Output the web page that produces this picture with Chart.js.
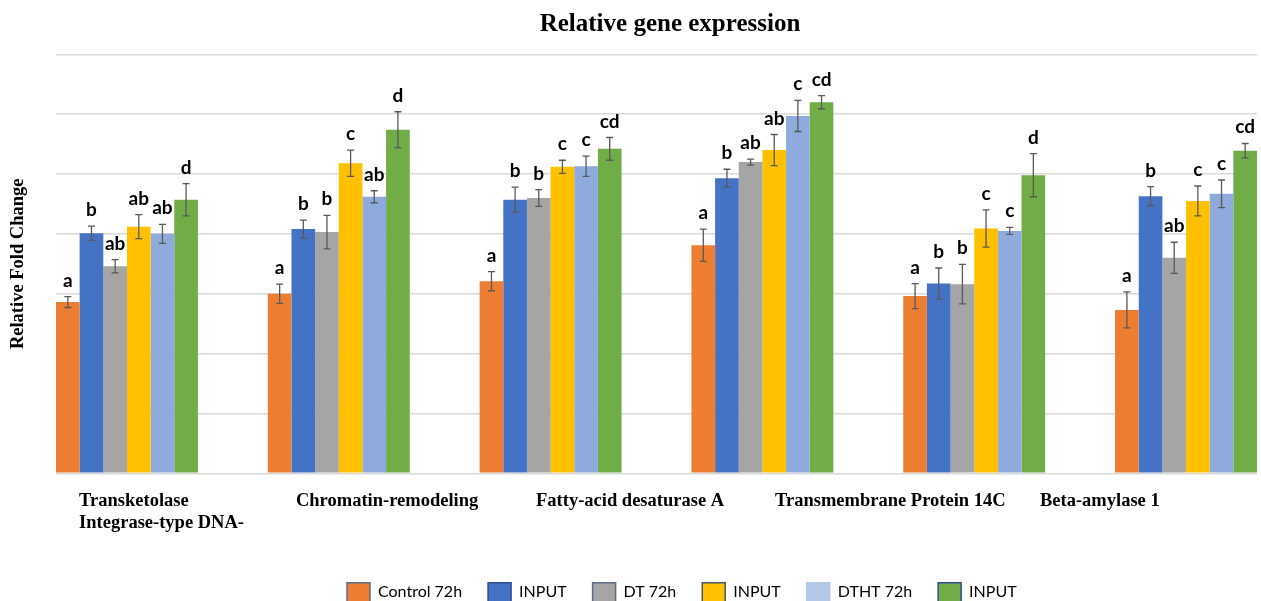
<!DOCTYPE html>
<html><head><meta charset="utf-8">
<script src="https://cdn.jsdelivr.net/npm/chart.js@4.4.1/dist/chart.umd.min.js"></script>
<style>html,body{margin:0;padding:0;background:#fff;overflow:hidden}#wrap{width:1261px;height:601px;position:relative}</style>
</head><body><div id="wrap"><canvas id="c" width="1261" height="601"></canvas></div>
<script>
// ---- data ----
const genes = ["Transketolase", "Integrase-type DNA-", "Chromatin-remodeling", "Fatty-acid desaturase A", "Transmembrane Protein 14C", "Beta-amylase 1"];
const tickLabels = [["Transketolase", "Integrase-type DNA-"], "Chromatin-remodeling", "Fatty-acid desaturase A", "Transmembrane Protein 14C", "Beta-amylase 1"];
const seriesNames = ["Control 72h", "INPUT", "DT 72h", "INPUT", "DTHT 72h", "INPUT"];

const control72h   = [2.86, 3.00, 3.21, 3.81, 2.96, 2.73];
const control72hSE = [0.09, 0.16, 0.16, 0.27, 0.21, 0.30];
const input1       = [4.01, 4.08, 4.57, 4.93, 3.17, 4.63];
const input1SE     = [0.12, 0.15, 0.21, 0.15, 0.26, 0.16];
const dt72h        = [3.46, 4.03, 4.60, 5.20, 3.16, 3.60];
const dt72hSE      = [0.11, 0.28, 0.14, 0.05, 0.33, 0.26];
const input2       = [4.12, 5.18, 5.12, 5.40, 4.09, 4.55];
const input2SE     = [0.20, 0.22, 0.11, 0.26, 0.31, 0.25];
const dtht72h      = [4.00, 4.62, 5.13, 5.97, 4.05, 4.67];
const dtht72hSE    = [0.16, 0.10, 0.17, 0.26, 0.06, 0.23];
const input3       = [4.57, 5.74, 5.42, 6.20, 4.98, 5.39];
const input3SE     = [0.27, 0.30, 0.19, 0.11, 0.36, 0.12];

const control72hSig = ["a", "a", "a", "a", "a", "a"];
const input1Sig     = ["b", "b", "b", "b", "b", "b"];
const dt72hSig      = ["ab", "b", "b", "ab", "b", "ab"];
const input2Sig     = ["ab", "c", "c", "ab", "c", "c"];
const dtht72hSig    = ["ab", "ab", "c", "c", "c", "c"];
const input3Sig     = ["d", "d", "cd", "cd", "d", "cd"];

const yTicks = [0, 1, 2, 3, 4, 5, 6, 7];
const tickAnchors = [0.0192, 0.1998, 0.3997, 0.5987, 0.8193];

// ---- styles ----
const colors = ["#ED7D31", "#4472C4", "#A5A5A5", "#FFC000", "#8FAADC", "#70AD47"];
const legendFill = ["#ED7D31", "#4472C4", "#A5A5A5", "#FFC000", "#B4C7E7", "#70AD47"];
const legendStroke = ["#5b6b8c", "#2F4F8F", "#5b6b8c", "#44546A", "#B4C7E7", "#2F4F8F"];

const values = [control72h, input1, dt72h, input2, dtht72h, input3];
const errs = [control72hSE, input1SE, dt72hSE, input2SE, dtht72hSE, input3SE];
const sigs = [control72hSig, input1Sig, dt72hSig, input2Sig, dtht72hSig, input3Sig];

const datasets = seriesNames.map((name, k) => ({
  label: name,
  data: values[k].map((v, i) => ({ x: i, y: v })),
  errors: errs[k],
  letters: sigs[k],
  backgroundColor: colors[k],
  borderWidth: 0,
  xAxisID: 'x', yAxisID: 'y'
}));

const errorBarPlugin = {
  id: 'errorBars',
  afterDatasetsDraw(chart) {
    const ctx = chart.ctx, ys = chart.scales.y;
    chart.data.datasets.forEach((ds, di) => {
      const meta = chart.getDatasetMeta(di);
      meta.data.forEach((bar, i) => {
        const v = ds.data[i].y, e = ds.errors[i];
        const yt = ys.getPixelForValue(v + e), yb = ys.getPixelForValue(v - e);
        ctx.save();
        ctx.strokeStyle = '#595959';
        ctx.lineWidth = 1.3;
        ctx.beginPath();
        ctx.moveTo(bar.x, yt); ctx.lineTo(bar.x, yb);
        ctx.moveTo(bar.x - 3.5, yt); ctx.lineTo(bar.x + 3.5, yt);
        ctx.moveTo(bar.x - 3.5, yb); ctx.lineTo(bar.x + 3.5, yb);
        ctx.stroke();
        ctx.fillStyle = '#000';
        ctx.font = 'bold 19px Lato';
        ctx.textAlign = 'center';
        ctx.textBaseline = 'alphabetic';
        ctx.fillText(ds.letters[i], bar.x, yt - 10);
        ctx.restore();
      });
    });
  }
};

const LEG_PAD = 26;
const shiftPlugin = {
  id: 'shiftBlocks',
  afterLayout(chart) {
    const t = chart.titleBlock;
    if (t) { t.left += 41.5; t.right += 41.5; }
    const lg = chart.legend;
    if (lg) {
      const dx = 347 - (lg.left + LEG_PAD);
      lg.left += dx; lg.right += dx;
      const dy = (582.7 - LEG_PAD) - lg.top;
      lg.top += dy; lg.bottom += dy;
    }
  }
};

new Chart(document.getElementById('c'), {
  type: 'bar',
  data: { datasets },
  plugins: [errorBarPlugin, shiftPlugin],
  options: {
    responsive: false,
    animation: false,
    events: [],
    layout: { padding: { left: 0, right: 4, top: 0, bottom: 0 } },
    datasets: { bar: { categoryPercentage: 0.67, barPercentage: 1.0 } },
    scales: {
      x: {
        type: 'linear', display: false, min: -0.335, max: 5.335, offset: false,
        grid: { offset: false },
        afterBuildTicks: s => { s.ticks = genes.map((g, i) => ({ value: i })); }
      },
      xl: {
        type: 'linear', position: 'bottom', min: 0, max: 1, offset: false,
        grid: { display: false, drawTicks: false, offset: false }, border: { display: false },
        afterBuildTicks: s => { s.ticks = tickAnchors.map(v => ({ value: v })); },
        afterFit: s => { s.height = 72.7; },
        ticks: {
          autoSkip: false, maxRotation: 0, minRotation: 0, align: 'start', padding: 16.4,
          color: '#000',
          font: { family: 'Liberation Serif', weight: 'bold', size: 18.5 },
          callback: (v, i) => tickLabels[i]
        }
      },
      y: {
        min: 0, max: 7,
        afterBuildTicks: s => { s.ticks = yTicks.map(v => ({ value: v })); },
        afterFit: s => { s.width = 56; },
        ticks: { display: false },
        grid: { color: '#d9d9d9', lineWidth: 1.5, drawTicks: false },
        border: { display: false },
        title: {
          display: true, text: 'Relative Fold Change', color: '#000',
          font: { family: 'Liberation Serif', weight: 'bold', size: 18.5 },
          padding: { top: 7, bottom: 0 }
        }
      }
    },
    plugins: {
      tooltip: { enabled: false },
      title: {
        display: true, text: 'Relative gene expression', color: '#000',
        font: { family: 'Liberation Serif', weight: 'bold', size: 25 },
        padding: { top: 9.6, bottom: 14.7 }
      },
      legend: {
        display: true, position: 'bottom', align: 'start',
        labels: {
          boxWidth: 23, boxHeight: 19, padding: LEG_PAD, color: '#262626',
          font: { family: 'Lato', size: 16 },
          generateLabels: chart => chart.data.datasets.map((ds, i) => ({
            text: ds.label, fillStyle: legendFill[i], strokeStyle: legendStroke[i],
            lineWidth: 1.5, hidden: false, datasetIndex: i
          }))
        }
      }
    }
  }
});
</script>
</body></html>
